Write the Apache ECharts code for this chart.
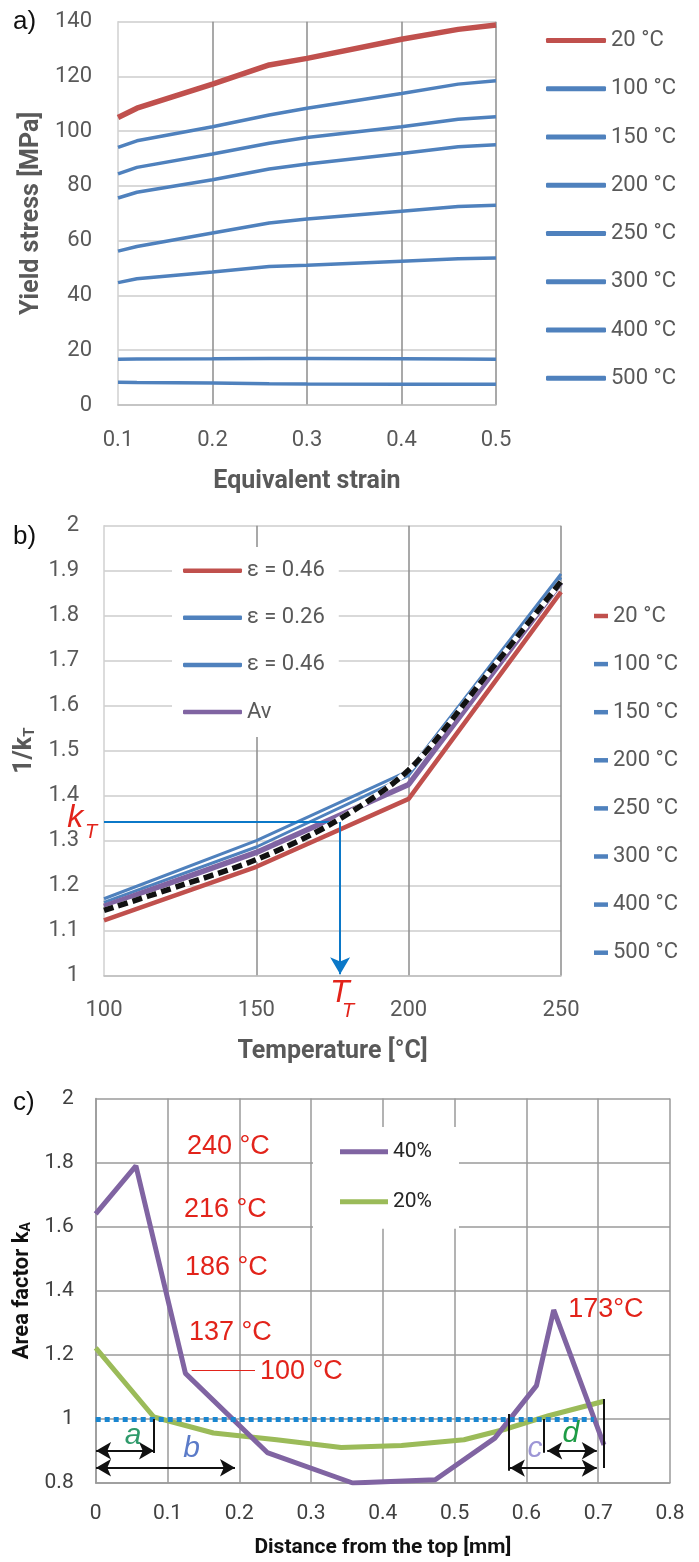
<!DOCTYPE html>
<html><head><meta charset="utf-8">
<script src="https://cdn.jsdelivr.net/npm/echarts@6/dist/echarts.min.js"></script>
<style>html,body{margin:0;padding:0;background:#fff}#c{width:699px;height:1562px}</style>
</head><body><div id="c"></div>
<script>
// ---------- panel a: yield stress vs equivalent strain ----------
const strainX = [0.1, 0.12, 0.2, 0.26, 0.3, 0.4, 0.46, 0.5];
const tempNames = ['20 °C','100 °C','150 °C','200 °C','250 °C','300 °C','400 °C','500 °C'];
const stress20  = [105.0,108.4,117.2,124.2,126.6,133.6,137.2,138.8];
const stress100 = [94.1,96.5,101.6,105.9,108.4,113.8,117.2,118.4];
const stress150 = [84.4,86.8,91.7,95.6,97.7,101.6,104.4,105.3];
const stress200 = [75.6,77.7,82.3,86.2,88.0,91.9,94.3,95.1];
const stress250 = [56.2,57.9,62.8,66.5,67.9,70.8,72.5,73.0];
const stress300 = [44.7,46.1,48.6,50.6,51.0,52.5,53.4,53.7];
const stress400 = [16.7,16.8,16.9,17.0,17.0,16.9,16.8,16.7];
const stress500 = [8.3,8.2,8.0,7.8,7.7,7.6,7.6,7.6];

// ---------- panel b: 1/kT vs temperature ----------
const tempX = [100, 150, 200, 250];
const bNames = ['ε = 0.46', 'ε = 0.26', 'ε = 0.46\u200b', 'Av'];
const invKred046 = [1.123, 1.242, 1.393, 1.853];
const invK026    = [1.171, 1.300, 1.455, 1.893];
const invK046    = [1.163, 1.286, 1.445, 1.885];
const invKav     = [1.154, 1.274, 1.425, 1.874];
const fitX = [100, 125, 150, 175, 200, 225, 250];
const fitY = [1.145, 1.200, 1.258, 1.339, 1.457, 1.663, 1.876];

// ---------- panel c: area factor vs distance ----------
const dist40 = [0, 0.056, 0.125, 0.239, 0.358, 0.473, 0.556, 0.614, 0.638, 0.708];
const kA40   = [1.64, 1.79, 1.142, 0.895, 0.80, 0.81, 0.94, 1.104, 1.34, 0.919];
const dist20 = [0, 0.081, 0.164, 0.252, 0.342, 0.426, 0.513, 0.569, 0.631, 0.708];
const kA20   = [1.222, 1.006, 0.956, 0.935, 0.911, 0.917, 0.935, 0.967, 1.01, 1.055];

const F = "Roboto, 'Open Sans', sans-serif";
const FA = "'Liberation Sans', Arial, sans-serif";
const RED = '#c0504d', BLUE = '#4f81bd', PURPLE = '#8064a2', GREEN = '#9bbb59';
const GREY_T = '#595959';
const ANN_RED = '#e2231a';

const pairs = (xs, ys) => xs.map((x, i) => [x, ys[i]]);
const stressSets = [stress20, stress100, stress150, stress200, stress250, stress300, stress400, stress500];

const chart = echarts.init(document.getElementById('c'), null, {renderer: 'canvas'});

function valAxis(o) {
  return Object.assign({
    type: 'value',
    axisTick: {show: false},
    axisLine: {show: true, lineStyle: {color: '#c8c8c8', width: 1.5}},
    axisLabel: {fontSize: 22, color: GREY_T, fontFamily: F},
    nameLocation: 'middle',
    nameTextStyle: {fontSize: 25, fontWeight: 'bold', color: GREY_T, fontFamily: F}
  }, o);
}

const series = [];
tempNames.forEach((n, i) => {
  const c = i === 0 ? RED : BLUE;
  series.push({
    name: n, type: 'line', xAxisIndex: 0, yAxisIndex: 0, symbol: 'none',
    color: c, lineStyle: {width: i === 0 ? 5.5 : 3.5, color: c}, z: i === 0 ? 4 : 3,
    data: pairs(strainX, stressSets[i])
  });
});
const bSets = [invKred046, invK026, invK046, invKav];
const bColors = [RED, BLUE, BLUE, PURPLE];
const bWidths = [4.5, 3, 3, 5.5];
bNames.forEach((n, i) => {
  series.push({
    name: n, type: 'line', xAxisIndex: 1, yAxisIndex: 1, symbol: 'none',
    color: bColors[i], lineStyle: {width: bWidths[i], color: bColors[i]}, z: 3 + (i === 3 ? 1 : 0),
    data: pairs(tempX, bSets[i])
  });
});
series.push({
  name: '_fitbg', type: 'line', xAxisIndex: 1, yAxisIndex: 1, symbol: 'none', smooth: 0.3,
  lineStyle: {width: 5.5, color: '#ffffff'}, z: 5, data: pairs(fitX, fitY)
});
series.push({
  name: '_fit', type: 'line', xAxisIndex: 1, yAxisIndex: 1, symbol: 'none', smooth: 0.3,
  lineStyle: {width: 5.5, color: '#111', type: [10, 5], cap: 'butt'}, z: 6, data: pairs(fitX, fitY),
  markLine: {
    silent: true, animation: false, label: {show: false}, symbolSize: [15, 17],
    lineStyle: {color: '#0b78c8', width: 2, type: 'solid'},
    data: [
      [{coord: [100, 1.342], symbol: 'none'}, {coord: [177.5, 1.342], symbol: 'none'}],
      [{coord: [177.5, 1.342], symbol: 'none'}, {coord: [177.5, 1.003], symbol: 'arrow'}]
    ]
  }
});
series.push({
  name: '40%', type: 'line', xAxisIndex: 2, yAxisIndex: 2, symbol: 'none',
  color: PURPLE, lineStyle: {width: 5, color: PURPLE}, z: 4, data: pairs(dist40, kA40)
});
series.push({
  name: '20%', type: 'line', xAxisIndex: 2, yAxisIndex: 2, symbol: 'none',
  color: GREEN, lineStyle: {width: 5, color: GREEN}, z: 3, data: pairs(dist20, kA20),
  markLine: {
    silent: true, animation: false, label: {show: false}, symbolSize: [13, 15],
    lineStyle: {color: '#111', width: 2, type: 'solid'},
    data: [
      [{coord: [0, 1], symbol: 'none', lineStyle: {color: '#1a86d0', width: 5, type: [5, 4], cap: 'butt'}}, {coord: [0.694, 1], symbol: 'none'}],
      [{coord: [0.0005, 0.9007], symbol: 'arrow'}, {coord: [0.0812, 0.9007], symbol: 'arrow'}],
      [{coord: [0.0812, 1.0], symbol: 'none'}, {coord: [0.0812, 0.894], symbol: 'none'}],
      [{coord: [0.0005, 0.8477], symbol: 'arrow'}, {coord: [0.194, 0.8477], symbol: 'arrow'}],
      [{coord: [0.576, 1.015], symbol: 'none'}, {coord: [0.576, 0.838], symbol: 'none'}],
      [{coord: [0.6235, 1.0], symbol: 'none'}, {coord: [0.6235, 0.8945], symbol: 'none'}],
      [{coord: [0.7075, 1.062], symbol: 'none'}, {coord: [0.7075, 0.847], symbol: 'none'}],
      [{coord: [0.577, 0.8465], symbol: 'arrow'}, {coord: [0.698, 0.8465], symbol: 'arrow'}],
      [{coord: [0.629, 0.9007], symbol: 'arrow'}, {coord: [0.698, 0.9007], symbol: 'arrow'}],
      [{coord: [0.1337, 1.153], symbol: 'none', lineStyle: {color: ANN_RED, width: 1.2}}, {coord: [0.2219, 1.153], symbol: 'none'}]
    ]
  }
});

const legendText = {fontSize: 22, color: GREY_T, fontFamily: F, lineHeight: 22};

const option = {
  animation: false,
  backgroundColor: '#ffffff',
  grid: [
    {left: 118, top: 21.7, width: 378, height: 383.3, outerBoundsMode: 'none', containLabel: false},
    {left: 104, top: 525.7, width: 457, height: 450, outerBoundsMode: 'none', containLabel: false},
    {left: 95.7, top: 1098.5, width: 574.3, height: 384.5, outerBoundsMode: 'none', containLabel: false}
  ],
  xAxis: [
    valAxis({gridIndex: 0, min: 0.1, max: 0.5, interval: 0.1, name: 'Equivalent strain', nameGap: 64,
      axisLabel: {fontSize: 22, color: GREY_T, fontFamily: F, margin: 24},
      axisLine: {show: true, lineStyle: {color: '#bfbfbf', width: 1.5}},
      splitLine: {show: true, showMinLine: false, lineStyle: {color: '#8c8c8c', width: 1.5}}}),
    valAxis({gridIndex: 1, min: 100, max: 250, interval: 50, name: 'Temperature [°C]', nameGap: 64,
      axisLabel: {fontSize: 22, color: GREY_T, fontFamily: F, margin: 24},
      axisLine: {show: true, lineStyle: {color: '#bfbfbf', width: 1.5}},
      splitLine: {show: true, showMinLine: false, lineStyle: {color: '#8c8c8c', width: 1.5}}}),
    valAxis({gridIndex: 2, min: 0, max: 0.8, interval: 0.1, name: 'Distance from the top [mm]', nameGap: 54,
      nameTextStyle: {fontSize: 21, fontWeight: 'bold', color: '#111', fontFamily: F},
      axisLabel: {fontSize: 21, color: '#404040', fontFamily: F, margin: 20},
      axisLine: {show: true, lineStyle: {color: '#9a9a9a', width: 1.5}},
      splitLine: {show: true, lineStyle: {color: '#9a9a9a', width: 1.5}}})
  ],
  yAxis: [
    valAxis({gridIndex: 0, min: 0, max: 140, interval: 20, name: 'Yield stress [MPa]', nameGap: 74, nameRotate: 90,
      axisLabel: {fontSize: 22, color: GREY_T, fontFamily: F, margin: 26},
      axisLine: {show: true, lineStyle: {color: '#d0d0d0', width: 1.5}},
      splitLine: {show: true, lineStyle: {color: '#d9d9d9', width: 2}}}),
    valAxis({gridIndex: 1, min: 1, max: 2, interval: 0.1, name: '1/k{s|T}', nameGap: 64, nameRotate: 90,
      nameTextStyle: {fontSize: 25, fontWeight: 'bold', color: GREY_T, fontFamily: F,
        rich: {s: {fontSize: 15, fontWeight: 'bold', color: GREY_T, fontFamily: F, padding: [10, 0, 0, 0]}}},
      axisLabel: {fontSize: 22, color: GREY_T, fontFamily: F, margin: 25},
      axisLine: {show: true, lineStyle: {color: '#d0d0d0', width: 1.5}},
      splitLine: {show: true, lineStyle: {color: '#d9d9d9', width: 2}}}),
    valAxis({gridIndex: 2, min: 0.8, max: 2, interval: 0.2, name: 'Area factor k{s|A}', nameGap: 58, nameRotate: 90,
      nameTextStyle: {fontSize: 22, fontWeight: 'bold', color: '#111', fontFamily: F,
        rich: {s: {fontSize: 14, fontWeight: 'bold', color: '#111', fontFamily: F, padding: [9, 0, 0, 0]}}},
      axisLabel: {fontSize: 21, color: '#404040', fontFamily: F, margin: 22},
      axisLine: {show: true, lineStyle: {color: '#9a9a9a', width: 1.5}},
      splitLine: {show: true, lineStyle: {color: '#9a9a9a', width: 1.5}}})
  ],
  legend: [
    {data: tempNames, orient: 'vertical', left: 546, top: 29.5, padding: 0, itemWidth: 60, itemHeight: 5,
      itemGap: 26.25, icon: 'roundRect', selectedMode: false, textStyle: legendText},
    {data: bNames, orient: 'vertical', left: 172, top: 547, padding: [12.7, 14, 14, 11], backgroundColor: '#fff',
      itemWidth: 59, itemHeight: 4.5, itemGap: 25.1, icon: 'roundRect', selectedMode: false, textStyle: legendText},
    {data: tempNames, orient: 'vertical', left: 594, top: 605, padding: 0, itemWidth: 14, itemHeight: 4.5,
      itemGap: 26.1, icon: 'rect', selectedMode: false, textStyle: legendText},
    {data: ['40%', '20%'], orient: 'vertical', left: 313, top: 1127, padding: [13.7, 27, 16, 27], backgroundColor: '#fff',
      itemWidth: 48, itemHeight: 5, itemGap: 28, icon: 'rect', selectedMode: false,
      textStyle: {fontSize: 21, color: '#262626', fontFamily: F, lineHeight: 22}}
  ],
  series: series
};
chart.setOption(option);

// ---------- annotations (positioned in data coordinates) ----------
const annC = [
  {t: '240 °C', x: 0.1272, y: 1.850},
  {t: '216 °C', x: 0.123, y: 1.652},
  {t: '186 °C', x: 0.1244, y: 1.471},
  {t: '137 °C', x: 0.130, y: 1.268},
  {t: '100 °C', x: 0.2289, y: 1.147},
  {t: '173°C', x: 0.6583, y: 1.340}
];
const letters = [
  {t: 'a', x: 0.052, y: 0.947, c: '#2f9a6b'},
  {t: 'b', x: 0.1337, y: 0.907, c: '#5b7bc8'},
  {t: 'c', x: 0.612, y: 0.906, c: '#9d96d6'},
  {t: 'd', x: 0.6617, y: 0.953, c: '#1e9c46'}
];
const graphics = [];
annC.forEach(a => {
  const p = chart.convertToPixel({gridIndex: 2}, [a.x, a.y]);
  graphics.push({type: 'text', x: p[0], y: p[1], z: 10,
    style: {text: a.t, fill: ANN_RED, font: '27px ' + FA, textAlign: 'left', textVerticalAlign: 'middle'}});
});
letters.forEach(a => {
  const p = chart.convertToPixel({gridIndex: 2}, [a.x, a.y]);
  graphics.push({type: 'text', x: p[0], y: p[1], z: 10,
    style: {text: a.t, fill: a.c, font: 'italic 30px ' + FA, textAlign: 'center', textVerticalAlign: 'middle'}});
});
const kT = [
  {t: 'k', x: 87.9, y: 1.350, s: 32},
  {t: 'T', x: 93.8, y: 1.319, s: 20},
  {t: 'T', x: 174.2, y: 0.9616, s: 32},
  {t: 'T', x: 178.1, y: 0.9216, s: 20}
];
kT.forEach(a => {
  const p = chart.convertToPixel({gridIndex: 1}, [a.x, a.y]);
  graphics.push({type: 'text', x: p[0], y: p[1], z: 10,
    style: {text: a.t, fill: ANN_RED, font: 'italic ' + a.s + 'px ' + FA, textAlign: 'left', textVerticalAlign: 'middle'}});
});
[['a)', 21.7], ['b)', 537], ['c)', 1103]].forEach(l => {
  graphics.push({type: 'text', x: 13, y: l[1], z: 10,
    style: {text: l[0], fill: '#111', font: '26px ' + FA, textAlign: 'left', textVerticalAlign: 'middle'}});
});
chart.setOption({graphic: graphics});
</script>
</body></html>
